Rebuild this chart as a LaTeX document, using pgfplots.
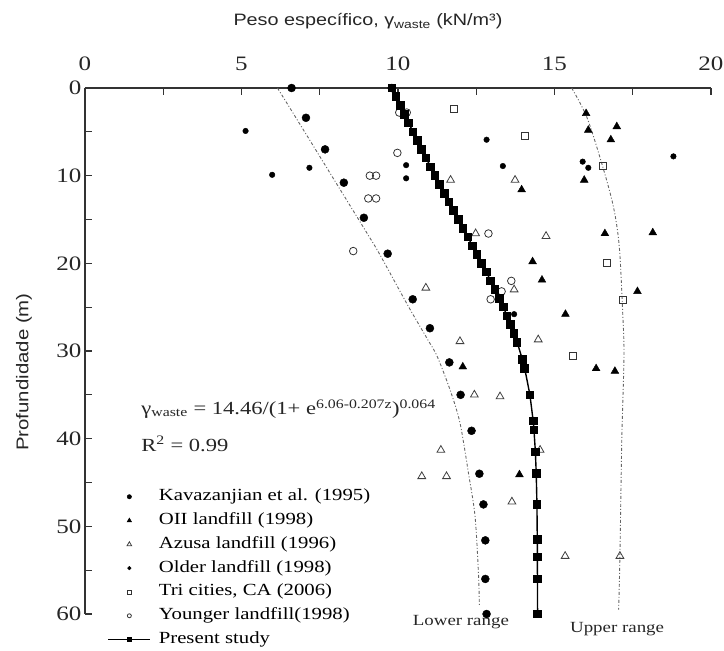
\documentclass[border=0pt]{standalone}
\usepackage{pgfplots}
\pgfplotsset{compat=1.18}
\usepackage{fontspec}
\setmainfont{Liberation Serif}
\newfontfamily\serifw{Liberation Serif}[FakeStretch=1.22]
\newfontfamily\sansw{Liberation Sans}[FakeStretch=1.2]
\pgfplotsset{
 markleg/.style={legend image code/.code={\path (0pt,0pt) (42pt,0pt); \draw[##1] plot coordinates {(21pt,0pt)};}},
 lineleg/.style={legend image code/.code={\draw[mark repeat=2,mark phase=2,##1] plot coordinates {(0pt,0pt) (21pt,0pt) (42pt,0pt)};}},
}
\begin{document}
\begin{tikzpicture}
\useasboundingbox (-85pt,-37pt) rectangle (639pt,614pt);
\begin{axis}[
 at={(0pt,0pt)}, anchor=south west,
 scale only axis, width=626pt, height=526pt,
 xmin=0, xmax=20, ymin=0, ymax=60, y dir=reverse,
 axis x line=top, axis y line=left,
 axis line style={-, line width=1.5pt, draw=black!80},
 xtick={0,5,10,15,20}, minor xtick={2.5,7.5,12.5,17.5},
 ytick={0,10,...,60}, minor ytick={5,15,...,55},
 tick align=inside,
 major tick length=7pt, minor tick length=7pt,
 tick style={line width=1.2pt, black!80},
 /pgf/number format/assume math mode=true,
 tick label style={font=\serifw\fontsize{20.5}{20.5}\selectfont, black!85},
 xticklabel style={yshift=14pt},
 clip=false,
 legend cell align=left,
 legend style={at={(axis cs:0.73,45.6)}, anchor=north west, draw=none, fill=none,
   inner sep=0pt, outer sep=0pt, row sep=5.8pt, column sep=8pt,
   font=\serifw\fontsize{17}{17}\selectfont,
   nodes={inner sep=0pt, text height=13pt, text depth=5pt}},
]
% lower / upper range
\addplot[forget plot, black!60, line width=0.9pt, dash pattern=on 3pt off 2pt on 1pt off 2pt, smooth] coordinates {
(6.15,0) (7.0,4.9) (8.0,10.7) (9.0,16.5) (9.42,19.0) (10.33,24.9) (10.95,28.7) (11.25,30.6) (11.66,34.4) (11.98,38.2) (12.25,43.9) (12.46,48.8) (12.57,55.3) (12.6,59.1)};
\addplot[forget plot, black!60, line width=0.9pt, dash pattern=on 3pt off 2pt on 1pt off 2pt, smooth] coordinates {
(15.55,0) (16.03,3.3) (16.51,8.6) (16.88,13.5) (17.07,18.1) (17.18,25.7) (17.22,30.6) (17.15,40.1) (17.09,53.4) (17.05,59.5)};
% Kavazanjian
\addplot[only marks, mark=*, mark size=4pt, black, markleg, legend image post style={mark size=2.2pt}] coordinates {
(6.6,0) (9.8,0) (7.06,3.4) (7.67,7.0) (8.27,10.8) (8.91,14.8) (9.67,18.9) (10.47,24.1) (11.02,27.4) (11.64,31.3) (12.0,35.0) (12.35,39.1) (12.6,44.0) (12.73,47.5) (12.79,51.6) (12.79,56.0) (12.83,60.0)};
\addlegendentry{Kavazanjian et al. (1995)}
% OII
\addplot[only marks, mark=triangle*, mark size=4.5pt, black, markleg, legend image post style={mark size=2.6pt}] coordinates {
(16.01,2.9) (16.08,4.8) (16.99,4.4) (16.8,5.9) (15.95,10.5) (13.95,11.6) (16.61,16.6) (18.14,16.5) (14.3,19.8) (14.6,21.9) (17.65,23.2) (15.35,25.8) (12.07,31.8) (16.33,32.0) (16.93,32.3) (13.88,44.1)};
\addlegendentry{OII landfill (1998)}
% Azusa
\addplot[only marks, mark=triangle, mark size=4.5pt, black!75, line width=0.8pt, markleg, legend image post style={mark size=2.6pt}] coordinates {
(11.68,10.5) (13.74,10.5) (12.48,16.6) (14.73,16.9) (10.89,22.8) (13.71,23.0) (11.98,28.9) (14.48,28.7) (12.44,35.0) (13.26,35.2) (11.37,41.3) (14.54,41.3) (10.76,44.3) (11.55,44.3) (13.64,47.2) (15.34,53.4) (17.09,53.4)};
\addlegendentry{Azusa landfill (1996)}
% Older
\addplot[only marks, mark=*, mark size=2.8pt, black, markleg, legend image post style={mark size=1.8pt}] coordinates {
(5.13,4.9) (7.17,9.1) (5.98,9.9) (10.26,8.8) (10.26,10.3) (12.83,5.9) (13.35,8.9) (15.9,8.4) (16.08,9.1) (18.8,7.8) (13.71,25.8)};
\addlegendentry{Older landfill (1998)}
% Tri cities
\addplot[only marks, mark=square, mark size=3.5pt, black!80, line width=0.8pt, markleg, legend image post style={mark size=2pt}] coordinates {
(11.79,2.4) (14.06,5.5) (16.54,8.9) (16.67,20.0) (17.18,24.2) (15.6,30.6)};
\addlegendentry{Tri cities, CA (2006)}
% Younger
\addplot[only marks, mark=o, mark size=3.8pt, black!80, line width=0.8pt, markleg, legend image post style={mark size=2pt}] coordinates {
(10.04,2.8) (10.28,2.8) (9.98,7.4) (9.1,10.0) (9.3,10.0) (9.05,12.6) (9.3,12.6) (8.57,18.6) (12.89,16.6) (13.62,22.0) (13.31,23.2) (12.96,24.1)};
\addlegendentry{Younger landfill(1998)}
% Present study
\addplot[black, line width=1.4pt, mark=square*, mark size=3.6pt, lineleg, legend image post style={mark size=2.2pt, line width=1pt}] coordinates {
(9.810,0) (9.940,1) (10.073,2) (10.206,3) (10.342,4) (10.478,5) (10.618,6) (10.758,7) (10.900,8) (11.043,9) (11.188,10) (11.334,11) (11.482,12) (11.630,13) (11.779,14) (11.930,15) (12.080,16) (12.231,17) (12.380,18) (12.529,19) (12.677,20) (12.822,21) (12.964,22) (13.103,23) (13.237,24) (13.365,25) (13.486,26) (13.602,27) (13.709,28) (13.807,29) (13.977,31) (14.049,32) (14.215,35) (14.320,38) (14.344,39) (14.389,41.5) (14.417,44) (14.439,47.5) (14.450,51.5) (14.453,53.5) (14.456,56) (14.459,60)};
\addlegendentry{Present study}
% texts
\node[font=\sansw\fontsize{16.5}{16.5}\selectfont, black!85] at (axis cs:9.04,-7.6) {Peso específico, γ\textsubscript{waste} (kN/m³)};
\node[rotate=90, font=\sansw\fontsize{17}{17}\selectfont, black!85] at (axis cs:-1.95,32.4) {Profundidade (m)};
\node[anchor=west, font=\serifw\fontsize{18.5}{18.5}\selectfont, black!85] at (axis cs:1.69,36.6) {γ\textsubscript{waste} = 14.46/(1+ e\textsuperscript{6.06-0.207z})\textsuperscript{0.064}};
\node[anchor=west, font=\serifw\fontsize{18.5}{18.5}\selectfont, black!85] at (axis cs:1.69,40.6) {R\textsuperscript{2} = 0.99};
\node[font=\serifw\fontsize{15.5}{15.5}\selectfont, black!85] at (axis cs:12.01,60.9) {Lower range};
\node[font=\serifw\fontsize{15.5}{15.5}\selectfont, black!85] at (axis cs:17.0,61.7) {Upper range};
\end{axis}
\end{tikzpicture}
\end{document}
